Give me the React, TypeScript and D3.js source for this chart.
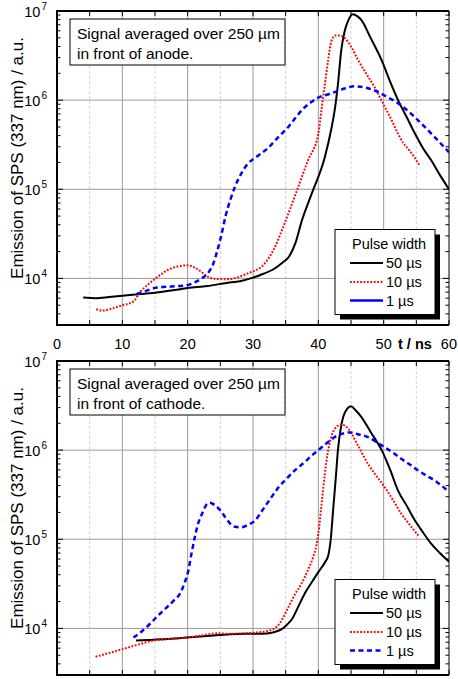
import React from "react";
import * as d3 from "d3";

type Pt = [number, number];

// ---------- Data (t in ns, emission in a.u.) ----------
const anodeBlack50: Pt[] = [[4,6100],[6,6000],[8,6200],[10,6400],[12,6600],[15,6900],[18,7400],[20,7800],[23,8200],[26,8900],[28,9300],[30,10200],[31.5,11200],[33,12500],[34.5,15000],[35.5,17500],[36.5,25000],[37.5,45000],[39,90000],[41,230000],[42,480000],[42.5,766000],[43,1500000],[43.5,3600000],[44,5800000],[44.6,7900000],[45.3,9200000],[46,8700000],[46.6,7900000],[48,5000000],[49.7,2800000],[51,1600000],[52.2,1000000],[53.5,650000],[54.8,420000],[56,290000],[57.3,210000],[58.6,145000],[60,100000]];
const anodeRed10: Pt[] = [[6,4500],[7,4350],[8.5,4600],[10,5000],[11.7,5500],[12.7,7000],[14,8600],[15.5,10500],[17,12500],[18.5,13600],[20,14000],[21,13300],[22,12000],[23,10500],[24,9900],[26,9800],[27.5,10200],[28.7,11000],[30,12000],[31.3,13500],[32.3,16500],[33.3,22000],[34.3,33000],[35.4,53000],[36.9,105000],[38.4,210000],[40,420000],[40.5,800000],[41,1500000],[41.5,2800000],[42,4600000],[42.6,5300000],[43.3,5300000],[44,5000000],[45,4000000],[46.1,2800000],[47.3,2000000],[48.6,1400000],[50.2,830000],[51.2,600000],[52.2,420000],[53,330000],[54,270000],[55.5,185000]];
const anodeBlue1: Pt[] = [[12.2,6700],[13.5,7200],[15.3,7900],[17.5,8100],[19.9,8400],[21.3,9200],[22.4,10300],[23.3,12000],[23.9,14500],[24.5,20000],[25.2,31600],[25.8,50000],[26.5,75000],[27.2,105000],[28.2,150000],[29.2,193000],[30.5,230000],[32.3,290000],[33.8,380000],[35.4,500000],[36.7,660000],[37.9,830000],[39,960000],[40,1070000],[41.3,1150000],[42.5,1230000],[44,1350000],[45.6,1430000],[47.6,1360000],[49,1250000],[50.2,1120000],[52.7,870000],[55.3,590000],[57.8,385000],[60,260000]];

const cathodeBlack50: Pt[] = [[12.1,7300],[14,7400],[16.8,7580],[19.9,7900],[23,8200],[26.5,8600],[29,8700],[31.3,8700],[33,9000],[34.4,9800],[35.2,11000],[35.9,12500],[37,18000],[37.9,24500],[39,33000],[40,42800],[41,55000],[41.5,65000],[41.9,100000],[42.3,230000],[42.7,520000],[43,1000000],[43.4,1700000],[43.8,2350000],[44.4,2900000],[45,3100000],[45.7,2800000],[46.6,2350000],[48,1600000],[49.7,1000000],[51,600000],[52.2,352000],[53.5,240000],[54.8,162000],[56,120000],[57.3,88700],[58.6,70000],[60,56000]];
const cathodeRed10: Pt[] = [[5.9,4800],[8,5300],[10.2,5900],[12.5,6600],[14.7,7300],[17,7600],[19.9,7900],[22,8300],[24.5,8800],[26.2,8700],[28.5,8800],[30.5,9000],[32.3,9400],[33.8,10700],[35.4,17200],[36.4,24000],[37.4,31600],[38.4,45000],[39.2,63000],[39.7,85000],[40,115000],[40.5,250000],[41,543000],[41.4,900000],[41.7,1170000],[42.5,1730000],[43.5,1940000],[44.6,1730000],[46,1150000],[47.6,700000],[49,500000],[50.2,380000],[51.5,270000],[52.7,193000],[54,145000],[55.3,110000]];
const cathodeBlue1: Pt[] = [[11.7,7900],[13,9300],[14.2,11200],[15.5,14000],[16.8,17200],[18,21000],[18.8,24400],[19.5,32000],[20.1,44500],[20.6,70000],[21.1,106000],[21.6,150000],[22.2,193000],[22.8,240000],[23.4,257000],[24.2,240000],[25,211000],[25.8,175000],[26.5,150000],[27.3,138000],[28.2,136000],[29.2,145000],[30.3,162000],[31.5,215000],[32.8,295000],[34,390000],[35.4,500000],[36.7,620000],[37.9,733000],[39,870000],[40,1000000],[41.3,1200000],[42.5,1400000],[43.7,1530000],[44.8,1580000],[46.2,1500000],[47.6,1400000],[49,1220000],[50.2,1070000],[51.5,930000],[52.7,800000],[54,690000],[55.3,590000],[56.5,520000],[57.8,457000],[60,340000]];

const xTickLabels = ["0", "10", "20", "30", "40", "50", "60"];
const yTickExponents = [4, 5, 6, 7];
const legendLabels = ["50 µs", "10 µs", "1 µs"];
const legendTitle = "Pulse width";
const yLabel = "Emission of SPS (337 nm) / a.u.";
const xLabel = "t / ns";
const boxLine1 = "Signal averaged over 250 µm";
const boxLine2Top = "in front of anode.";
const boxLine2Bottom = "in front of cathode.";

const FONT = "'Liberation Sans', Arial, Helvetica, sans-serif";
const X0 = 57, X1 = 449;

const styles = [
  { color: "#000000", width: 2, dash: "" },
  { color: "#ff0000", width: 2, dash: "1.8,1.6" },
  { color: "#0000ff", width: 2.5, dash: "5,3.5" },
];

function Panel({ top, series, line2, blueDashedLegend, idx, showXLabels }:
  { top: number; series: Pt[][]; line2: string; blueDashedLegend: boolean; idx: number; showXLabels: boolean }) {
  const bottom = top + 314;
  const x = d3.scaleLinear().domain([0, 60]).range([X0, X1]);
  const y = d3.scaleLog().domain([3000, 1e7]).range([bottom, top]);
  const line = d3.line<Pt>().x(d => x(d[0])).y(d => y(d[1])).curve(d3.curveMonotoneX);

  const majorX = d3.range(10, 60, 10);
  const minorX = d3.range(5, 60, 10);
  const allX = d3.range(0, 61, 5);
  const decades = [1e4, 1e5, 1e6];
  const minorY: number[] = [];
  for (let e = 3; e <= 6; e++) for (let m = 1; m <= 9; m++) {
    const v = m * Math.pow(10, e);
    if (v >= 3000 && v <= 1e7) minorY.push(v);
  }
  minorY.push(1e7);
  const clipId = `clip${idx}`;
  const lx = 335, ly = top + 218.5;
  const rows = [ly + 33.5, ly + 52.5, ly + 71];

  return (
    <g>
      <defs>
        <clipPath id={clipId}>
          <rect x={X0} y={top} width={X1 - X0} height={bottom - top} />
        </clipPath>
      </defs>
      {/* grid */}
      {minorX.map(v => (
        <line key={"mx" + v} x1={x(v)} x2={x(v)} y1={top} y2={bottom} stroke="#c8c8c8" strokeWidth={0.8} strokeDasharray="3,2" />
      ))}
      {majorX.map(v => (
        <line key={"gx" + v} x1={x(v)} x2={x(v)} y1={top} y2={bottom} stroke="#999" strokeWidth={1} />
      ))}
      {decades.map(v => (
        <line key={"gy" + v} x1={X0} x2={X1} y1={y(v)} y2={y(v)} stroke="#999" strokeWidth={1} />
      ))}
      {/* text box */}
      <rect x={70} y={top + 8} width={215} height={46} fill="#fff" stroke="#000" strokeWidth={1} />
      <text x={77} y={top + 28} fontFamily={FONT} fontSize={15.5} fill="#000">{boxLine1}</text>
      <text x={77} y={top + 47.5} fontFamily={FONT} fontSize={15.5} fill="#000">{line2}</text>
      {/* data */}
      <g clipPath={`url(#${clipId})`}>
        {series.map((s, i) => (
          <path key={i} d={line(s) || ""} fill="none" stroke={styles[i].color} strokeWidth={styles[i].width}
            strokeDasharray={styles[i].dash || undefined} strokeLinejoin="round" />
        ))}
      </g>
      {/* axes frame */}
      <line x1={X1} x2={X1} y1={top} y2={bottom} stroke="#000" strokeWidth={1} />
      <line x1={X0} x2={X1} y1={top} y2={top} stroke="#000" strokeWidth={2} />
      <line x1={X0} x2={X1} y1={bottom} y2={bottom} stroke="#000" strokeWidth={2} />
      <line x1={X0} x2={X0} y1={top - 1} y2={bottom + 1} stroke="#000" strokeWidth={2} />
      {allX.map(v => (
        <g key={"tx" + v}>
          <line x1={x(v)} x2={x(v)} y1={bottom} y2={bottom - 5} stroke="#000" strokeWidth={1} />
          <line x1={x(v)} x2={x(v)} y1={top} y2={top + 5} stroke="#000" strokeWidth={1} />
        </g>
      ))}
      {minorY.map(v => {
        const major = Math.abs(Math.log10(v) - Math.round(Math.log10(v))) < 1e-9;
        const len = major ? 6 : 3.5;
        return (
          <g key={"ty" + v}>
            <line x1={X0} x2={X0 + len} y1={y(v)} y2={y(v)} stroke="#000" strokeWidth={1} />
            <line x1={X1} x2={X1 - len} y1={y(v)} y2={y(v)} stroke="#000" strokeWidth={1} />
          </g>
        );
      })}
      {/* y tick labels */}
      {yTickExponents.map(e => (
        <text key={"yl" + e} x={47} y={y(Math.pow(10, e)) + 6} textAnchor="end" fontFamily={FONT} fontSize={14.5} fill="#000">
          10<tspan fontSize={10} dx={1} dy={-7}>{e}</tspan>
        </text>
      ))}
      {/* x tick labels */}
      {showXLabels && xTickLabels.map((t, i) => {
        const v = +t;
        const last = i === xTickLabels.length - 1;
        return (
          <text key={"xl" + t} x={last ? 457 : x(v)} y={bottom + 24} textAnchor={last ? "end" : "middle"}
            fontFamily={FONT} fontSize={14.5} fill="#000">{t}</text>
        );
      })}
      {showXLabels && (
        <text x={398} y={bottom + 24} fontFamily={FONT} fontSize={14.5} fontWeight="bold" fill="#000">{xLabel}</text>
      )}
      {/* y label */}
      <text transform={`translate(23,${top + 147}) rotate(-90)`} textAnchor="middle" fontFamily={FONT} fontSize={17} fill="#000">{yLabel}</text>
      {/* legend */}
      <rect x={lx + 5} y={ly + 5} width={100} height={85} fill="#000" />
      <rect x={lx} y={ly} width={100} height={85} fill="#fff" stroke="#000" strokeWidth={1} />
      <text x={352} y={ly + 19} fontFamily={FONT} fontSize={14.5} fill="#000">{legendTitle}</text>
      {legendLabels.map((lab, i) => {
        const st = styles[i];
        const dash = i === 2 && !blueDashedLegend ? undefined : (st.dash || undefined);
        return (
          <g key={"lg" + i}>
            <line x1={350} x2={383} y1={rows[i]} y2={rows[i]} stroke={st.color} strokeWidth={st.width} strokeDasharray={dash} />
            <text x={386} y={rows[i] + 5} fontFamily={FONT} fontSize={14.5} fill="#000">{lab}</text>
          </g>
        );
      })}
    </g>
  );
}

export default function App() {
  return (
    <svg width={458} height={679} style={{ position: "absolute", left: 0, top: 0, background: "#fff" }}>
      <rect x={0} y={0} width={458} height={679} fill="#fff" />
      <Panel idx={0} top={11} series={[anodeBlack50, anodeRed10, anodeBlue1]} line2={boxLine2Top} blueDashedLegend={false} showXLabels={true} />
      <Panel idx={1} top={361} series={[cathodeBlack50, cathodeRed10, cathodeBlue1]} line2={boxLine2Bottom} blueDashedLegend={true} showXLabels={false} />
    </svg>
  );
}
